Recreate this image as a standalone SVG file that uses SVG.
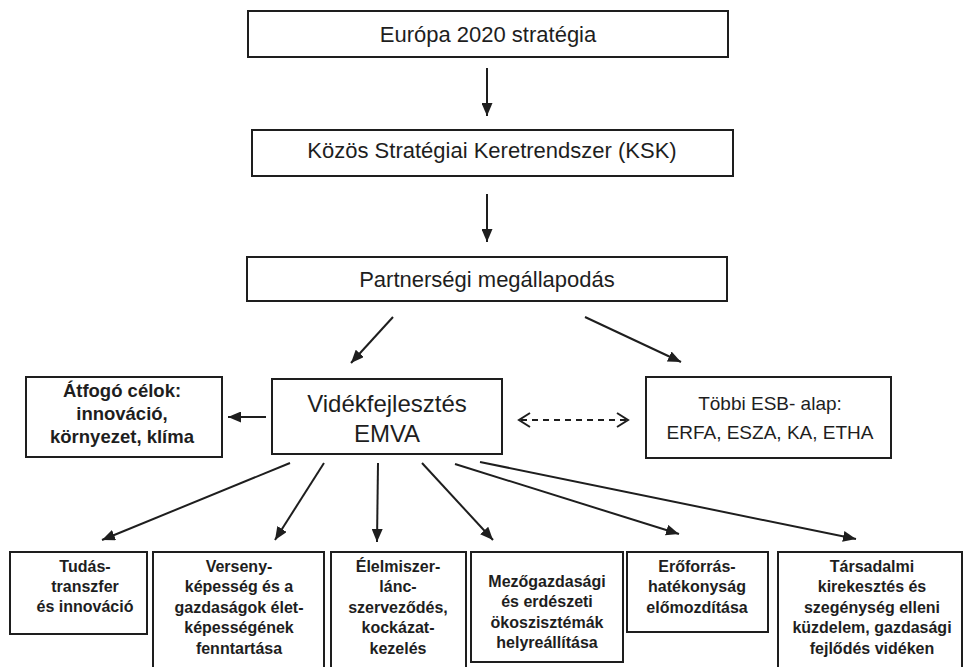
<svg xmlns="http://www.w3.org/2000/svg" width="966" height="667" viewBox="0 0 966 667">
  <defs>
    <style>
      .box { fill: #ffffff; stroke: #1e1e1e; stroke-width: 2; }
      .t { font-family: "Liberation Sans", Arial, sans-serif; fill: #1e1e1e; text-anchor: middle; }
      .big { font-size: 22px; }
      .mid { font-size: 19px; }
      .hd { font-size: 24px; }
      .bold18 { font-size: 18.5px; font-weight: bold; }
      .bold16 { font-size: 16px; font-weight: bold; }
      .conn { stroke: #1e1e1e; stroke-width: 2; fill: none; }
      .dash { stroke-dasharray: 6 5; }
    </style>
    <marker id="arrow" markerUnits="userSpaceOnUse" markerWidth="13" markerHeight="11" refX="13" refY="5.5" orient="auto">
      <path d="M0,0 L13,5.5 L0,11 Z" fill="#1e1e1e"/>
    </marker>
  </defs>

  <rect width="966" height="667" fill="#ffffff"/>

  <!-- connectors -->
  <g id="connectors">
    <line class="conn" x1="487" y1="68" x2="487" y2="116" marker-end="url(#arrow)"/>
    <line class="conn" x1="487" y1="194" x2="487" y2="242" marker-end="url(#arrow)"/>
    <line class="conn" x1="393" y1="317" x2="351" y2="363" marker-end="url(#arrow)"/>
    <line class="conn" x1="585" y1="317" x2="681" y2="362" marker-end="url(#arrow)"/>
    <line class="conn" x1="266" y1="417" x2="228" y2="417" marker-end="url(#arrow)"/>
    <!-- two-way dashed link -->
    <line class="conn dash" x1="521" y1="420" x2="626" y2="420"/>
    <polyline class="conn" points="530,413 519,420 530,427"/>
    <polyline class="conn" points="617,413 628,420 617,427"/>
    <!-- priorities -->
    <line class="conn" x1="290" y1="463" x2="102" y2="540" marker-end="url(#arrow)"/>
    <line class="conn" x1="324" y1="463" x2="275" y2="540" marker-end="url(#arrow)"/>
    <line class="conn" x1="378" y1="463" x2="377" y2="542" marker-end="url(#arrow)"/>
    <line class="conn" x1="422" y1="463" x2="493" y2="540" marker-end="url(#arrow)"/>
    <line class="conn" x1="455" y1="464" x2="679" y2="534" marker-end="url(#arrow)"/>
    <line class="conn" x1="480" y1="462" x2="856" y2="539" marker-end="url(#arrow)"/>
  </g>

  <g id="europa2020">
    <rect class="box" x="248" y="11" width="480" height="46"/>
    <text class="t big" x="488" y="42">Európa 2020 stratégia</text>
  </g>

  <g id="ksk">
    <rect class="box" x="252" y="130" width="481" height="46"/>
    <text class="t big" x="492" y="158">Közös Stratégiai Keretrendszer (KSK)</text>
  </g>

  <g id="partnerseg">
    <rect class="box" x="247" y="257" width="480" height="44"/>
    <text class="t big" x="487" y="287">Partnerségi megállapodás</text>
  </g>

  <g id="videkfejlesztes">
    <rect class="box" x="272" y="379" width="230" height="75"/>
    <text class="t hd" x="387" y="412">Vidékfejlesztés</text>
    <text class="t hd" x="387" y="442">EMVA</text>
  </g>

  <g id="atfogo">
    <rect class="box" x="26" y="377" width="196" height="80"/>
    <text class="t bold18" x="122" y="397">Átfogó célok:</text>
    <text class="t bold18" x="122" y="420">innováció,</text>
    <text class="t bold18" x="122" y="443">környezet, klíma</text>
  </g>

  <g id="tobbi-esb">
    <rect class="box" x="646" y="377" width="245" height="81"/>
    <text class="t mid" x="770" y="410">Többi ESB- alap:</text>
    <text class="t mid" x="770" y="439">ERFA, ESZA, KA, ETHA</text>
  </g>

  <g id="tudastranszfer">
    <rect class="box" x="10" y="552" width="137" height="82"/>
    <text class="t bold16" x="85" y="572">Tudás-</text>
    <text class="t bold16" x="85" y="592">transzfer</text>
    <text class="t bold16" x="85" y="612">és innováció</text>
  </g>

  <g id="versenykepesseg">
    <rect class="box" x="153" y="552" width="171" height="125"/>
    <text class="t bold16" x="239" y="572">Verseny-</text>
    <text class="t bold16" x="239" y="592">képesség és a</text>
    <text class="t bold16" x="239" y="613">gazdaságok élet-</text>
    <text class="t bold16" x="239" y="633">képességének</text>
    <text class="t bold16" x="239" y="654">fenntartása</text>
  </g>

  <g id="elelmiszerlanc">
    <rect class="box" x="331" y="552" width="135" height="125"/>
    <text class="t bold16" x="398" y="572">Élelmiszer-</text>
    <text class="t bold16" x="398" y="592">lánc-</text>
    <text class="t bold16" x="398" y="613">szerveződés,</text>
    <text class="t bold16" x="398" y="633">kockázat-</text>
    <text class="t bold16" x="398" y="654">kezelés</text>
  </g>

  <g id="okoszisztemak">
    <rect class="box" x="471" y="552" width="152" height="110"/>
    <text class="t bold16" x="547" y="587">Mezőgazdasági</text>
    <text class="t bold16" x="547" y="607">és erdészeti</text>
    <text class="t bold16" x="547" y="628">ökoszisztémák</text>
    <text class="t bold16" x="547" y="648">helyreállítása</text>
  </g>

  <g id="eroforras">
    <rect class="box" x="627" y="552" width="141" height="80"/>
    <text class="t bold16" x="697" y="572">Erőforrás-</text>
    <text class="t bold16" x="697" y="592">hatékonyság</text>
    <text class="t bold16" x="697" y="613">előmozdítása</text>
  </g>

  <g id="tarsadalmi">
    <rect class="box" x="778" y="552" width="184" height="125"/>
    <text class="t bold16" x="872" y="572">Társadalmi</text>
    <text class="t bold16" x="872" y="592">kirekesztés és</text>
    <text class="t bold16" x="872" y="613">szegénység elleni</text>
    <text class="t bold16" x="872" y="633">küzdelem, gazdasági</text>
    <text class="t bold16" x="872" y="654">fejlődés vidéken</text>
  </g>
</svg>
